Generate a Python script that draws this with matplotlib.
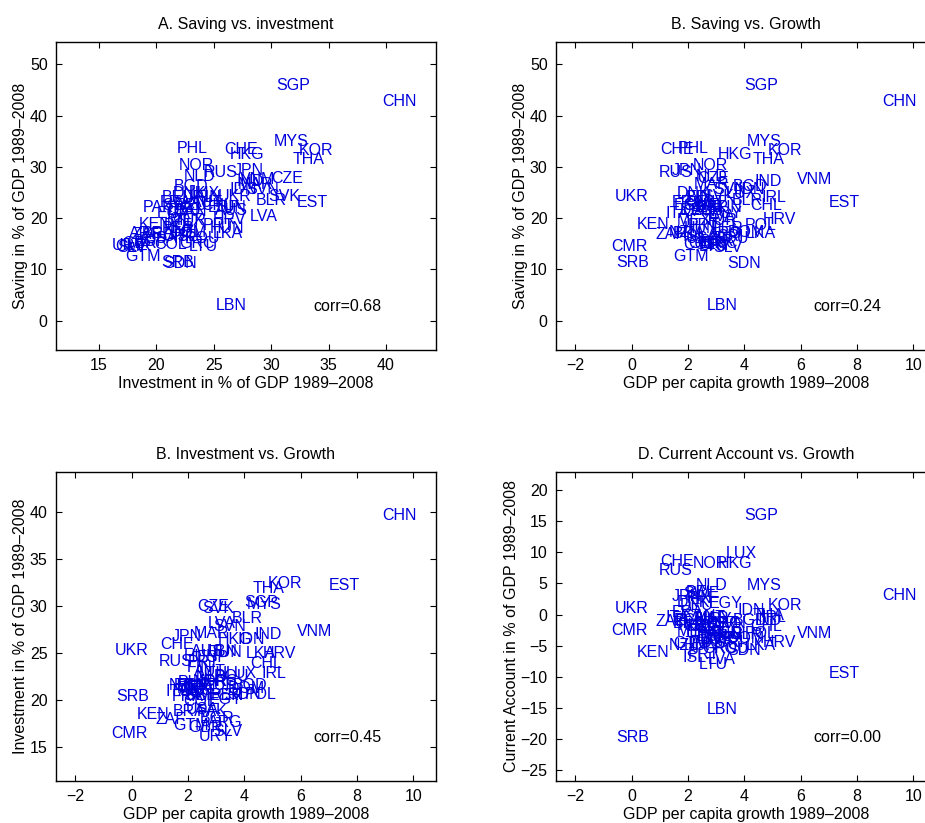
import matplotlib
matplotlib.use('Agg')
import matplotlib.pyplot as plt

plt.rcParams['font.family'] = ['Liberation Sans', 'DejaVu Sans']
plt.rcParams['font.size'] = 11.5

# country codes and the four series
countries = ['CHN', 'SGP', 'MYS', 'KOR', 'THA', 'PHL', 'CHE', 'HKG', 'NOR', 'RUS',
             'JPN', 'NLD', 'CZE', 'SVK', 'BLR', 'EST', 'LVA', 'IND', 'VNM', 'UKR',
             'KEN', 'CMR', 'SRB', 'SDN', 'GTM', 'LBN', 'URY', 'SLV', 'ARG', 'ZAF',
             'IRL', 'CHL', 'HRV', 'POL', 'DOM', 'ITA', 'FRA', 'DNK', 'BGD', 'IDN',
             'EGY', 'MAR', 'LUX', 'SWE', 'NZL', 'MEX', 'ISL', 'LTU', 'AUS', 'USA',
             'GBR', 'CAN', 'DEU', 'AUT', 'BEL', 'FIN', 'ESP', 'PRT', 'GRC', 'TUR',
             'TUN', 'HUN', 'ROU', 'BGR', 'SVN', 'BRA', 'COL', 'PER', 'ECU', 'CRI',
             'PAK', 'LKA']

investment = [39.65, 30.4, 30.2, 32.4, 31.85, 21.8, 25.9, 26.4, 21.9, 24.1,
              26.7, 22.4, 30.0, 29.7, 28.65, 32.2, 28.15, 27.0, 27.3, 25.3,
              18.45, 16.4, 20.4, 20.6, 17.3, 25.2, 16.1, 16.6, 17.6, 17.85,
              22.8, 23.9, 24.9, 20.6, 21.2, 20.9, 20.3, 21.45, 21.5, 26.4,
              20.0, 27.1, 22.8, 20.5, 21.5, 21.2, 21.5, 22.8, 25.1, 19.0,
              17.0, 21.45, 21.0, 23.0, 20.5, 23.4, 24.5, 24.0, 22.0, 21.5,
              25.0, 24.6, 22.5, 18.0, 27.8, 18.7, 19.8, 20.5, 21.5, 20.5,
              18.8, 24.9]

saving = [42.7, 45.8, 34.9, 33.1, 31.5, 33.6, 33.4, 32.5, 30.2, 28.9,
          29.2, 28.1, 27.8, 24.3, 23.5, 23.1, 20.3, 27.1, 27.6, 24.2,
          18.7, 14.4, 11.3, 11.2, 12.5, 2.9, 14.6, 14.3, 17.0, 16.8,
          24.05, 22.4, 19.8, 18.6, 17.2, 21.0, 23.1, 24.9, 26.1, 25.5,
          21.0, 26.5, 24.9, 22.5, 17.3, 19.5, 16.5, 14.4, 21.5, 16.0,
          15.0, 21.25, 21.5, 23.0, 24.0, 24.0, 22.0, 18.5, 15.0, 19.5,
          22.0, 18.0, 16.0, 15.5, 25.5, 17.0, 14.8, 18.0, 22.5, 16.5,
          22.1, 17.0]

growth = [8.88, 4.00, 4.09, 4.84, 4.29, 1.63, 1.02, 3.06, 2.16, 0.96,
          1.42, 2.26, 2.33, 2.49, 3.55, 6.99, 2.70, 4.37, 5.87, -0.60,
          0.19, -0.74, -0.56, 3.40, 1.48, 2.65, 2.36, 2.88, 2.72, 0.84,
          4.62, 4.20, 4.66, 4.02, 3.42, 1.20, 1.41, 1.61, 3.60, 3.75,
          2.73, 2.19, 3.32, 1.84, 1.31, 1.61, 1.80, 2.38, 2.10, 1.90,
          2.00, 1.80, 1.70, 2.20, 1.90, 1.95, 2.30, 2.00, 2.50, 2.60,
          2.78, 1.85, 2.90, 2.40, 2.90, 1.47, 1.81, 2.80, 1.50, 3.00,
          2.30, 4.05]

current_account = [3.0, 15.9, 4.7, 1.5, -0.2, -1.8, 8.5, 8.2, 8.2, 7.0,
                   2.9, 4.7, -2.2, -4.0, -3.2, -9.5, -7.2, -1.0, -3.0, 1.0,
                   -6.15, -2.5, -19.8, -5.8, -4.6, -15.25, -0.8, -3.5, -1.5, -1.2,
                   -0.4, -2.0, -4.5, -3.0, -3.8, -0.5, 0.3, 2.0, -1.0, 0.6,
                   1.8, -0.6, 9.8, 3.3, -4.9, -2.8, -6.9, -8.0, -4.5, -3.0,
                   -2.0, -0.3, 1.5, -0.5, 3.5, 2.5, -3.5, -6.5, -5.5, -1.5,
                   -3.2, -5.0, -5.5, -4.0, -1.5, -1.5, -2.0, -3.0, -1.0, -4.5,
                   -3.0, -5.0]

corr_texts = ['corr=0.68', 'corr=0.24', 'corr=0.45', 'corr=0.00']

W, H = 925.0, 823.0
fig = plt.figure(figsize=(9.25, 8.23), dpi=100)


def panel(rect, x, y, title, xlabel, ylabel, xlim, ylim, xticks, yticks, corr):
    ax = fig.add_axes(rect)
    for cx, cy, name in zip(x, y, countries):
        ax.text(cx, cy, name, color='#0000dd', ha='left', va='center', fontsize=11.5)
    ax.text(0.677, 0.14, corr, transform=ax.transAxes, ha='left', va='center',
            color='black', fontsize=11.5)
    ax.set_xlim(xlim)
    ax.set_ylim(ylim)
    ax.set_xticks(xticks)
    ax.set_yticks(yticks)
    ax.tick_params(direction='in', top=True, right=True, length=4, width=0.8,
                   labelsize=11.5, pad=6)
    for sp in ax.spines.values():
        sp.set_linewidth(1.0)
    ax.set_title(title, fontsize=11.5, pad=9)
    ax.set_xlabel(xlabel, fontsize=11.5, labelpad=2)
    ax.set_ylabel(ylabel, fontsize=11.5, labelpad=1)
    return ax


top_b = (H - 350) / H
bot_b = (H - 780.7) / H
w = 380 / W

panel([56 / W, top_b, w, 308 / H], investment, saving,
      'A. Saving vs. investment', 'Investment in % of GDP 1989\u20132008',
      'Saving in % of GDP 1989\u20132008',
      (11.25, 44.35), (-5.7, 54.35), range(15, 41, 5), range(0, 51, 10), corr_texts[0])

panel([556 / W, top_b, w, 308 / H], growth, saving,
      'B. Saving vs. Growth', 'GDP per capita growth 1989\u20132008',
      'Saving in % of GDP 1989\u20132008',
      (-2.69, 10.8), (-5.7, 54.35), range(-2, 11, 2), range(0, 51, 10), corr_texts[1])

panel([56 / W, bot_b, w, 309 / H], growth, investment,
      'B. Investment vs. Growth', 'GDP per capita growth 1989\u20132008',
      'Investment in % of GDP 1989\u20132008',
      (-2.69, 10.8), (11.37, 44.33), range(-2, 11, 2), range(15, 41, 5), corr_texts[2])

panel([556 / W, bot_b, w, 309 / H], growth, current_account,
      'D. Current Account vs. Growth', 'GDP per capita growth 1989\u20132008',
      'Current Account in % of GDP 1989\u20132008',
      (-2.69, 10.8), (-26.7, 22.95), range(-2, 11, 2), range(-25, 21, 5), corr_texts[3])

fig.savefig('out.png', dpi=100)
